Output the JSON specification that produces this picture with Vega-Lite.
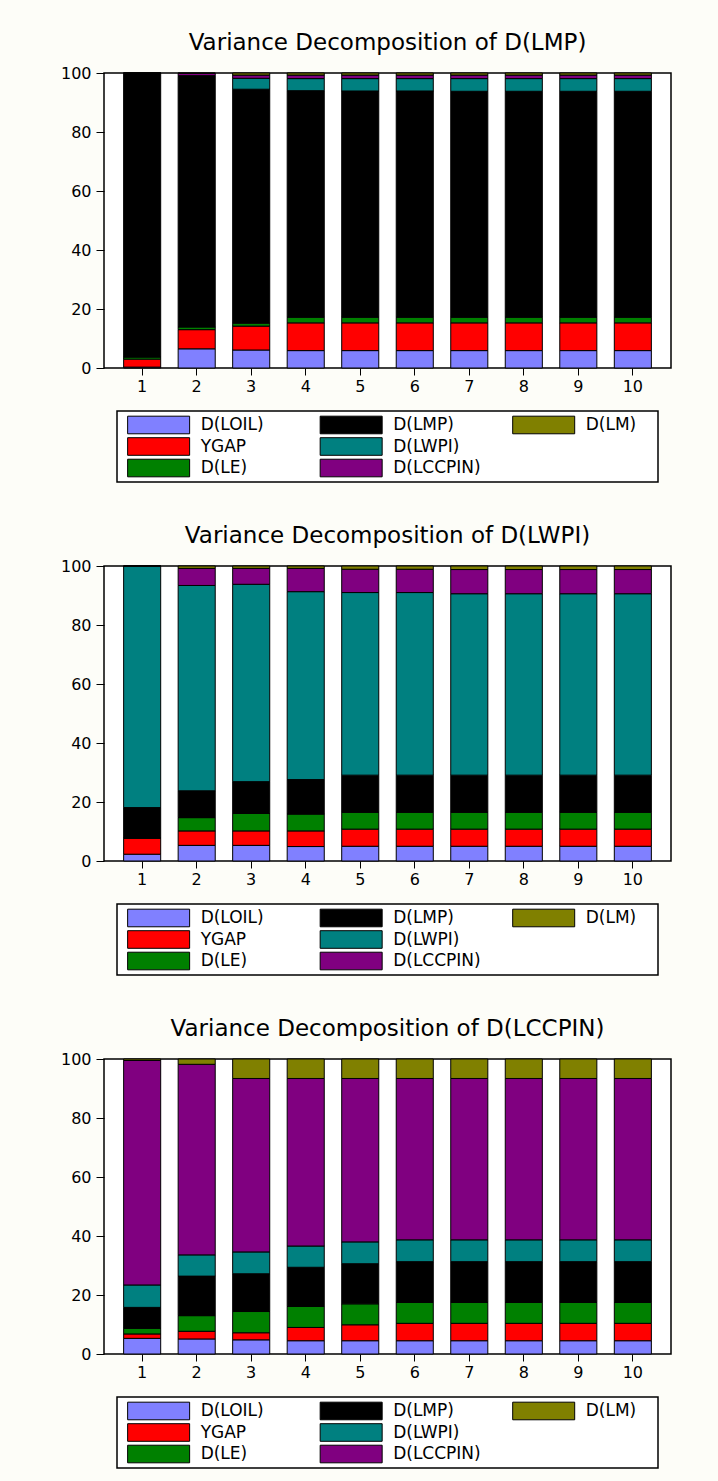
{
  "$schema": "https://vega.github.io/schema/vega-lite/v6.json",
  "background": "#fdfdf8",
  "padding": {"left": 59, "top": 31, "right": 47, "bottom": 13},
  "datasets": {
    "vd": [
      {"panel": "D(LMP)", "h": 1, "loil": 0.3, "ygap": 2.7, "le": 0.7, "lmp": 96.2, "lwpi": 0.05, "lccpin": 0.03, "lm": 0.02},
      {"panel": "D(LMP)", "h": 2, "loil": 6.5, "ygap": 6.5, "le": 0.9, "lmp": 84.9, "lwpi": 0.3, "lccpin": 0.8, "lm": 0.1},
      {"panel": "D(LMP)", "h": 3, "loil": 6.1, "ygap": 8.1, "le": 1.0, "lmp": 79.3, "lwpi": 3.7, "lccpin": 1.1, "lm": 0.7},
      {"panel": "D(LMP)", "h": 4, "loil": 5.9, "ygap": 9.4, "le": 1.9, "lmp": 76.8, "lwpi": 4.1, "lccpin": 1.2, "lm": 0.7},
      {"panel": "D(LMP)", "h": 5, "loil": 5.9, "ygap": 9.4, "le": 1.9, "lmp": 76.7, "lwpi": 4.2, "lccpin": 1.2, "lm": 0.7},
      {"panel": "D(LMP)", "h": 6, "loil": 5.9, "ygap": 9.4, "le": 1.9, "lmp": 76.7, "lwpi": 4.2, "lccpin": 1.2, "lm": 0.7},
      {"panel": "D(LMP)", "h": 7, "loil": 5.9, "ygap": 9.4, "le": 1.9, "lmp": 76.6, "lwpi": 4.3, "lccpin": 1.2, "lm": 0.7},
      {"panel": "D(LMP)", "h": 8, "loil": 5.9, "ygap": 9.4, "le": 1.9, "lmp": 76.6, "lwpi": 4.3, "lccpin": 1.2, "lm": 0.7},
      {"panel": "D(LMP)", "h": 9, "loil": 5.9, "ygap": 9.4, "le": 1.9, "lmp": 76.6, "lwpi": 4.3, "lccpin": 1.2, "lm": 0.7},
      {"panel": "D(LMP)", "h": 10, "loil": 5.9, "ygap": 9.4, "le": 1.9, "lmp": 76.6, "lwpi": 4.3, "lccpin": 1.2, "lm": 0.7},
      {"panel": "D(LWPI)", "h": 1, "loil": 2.3, "ygap": 5.4, "le": 0.1, "lmp": 10.3, "lwpi": 81.9, "lccpin": 0.0, "lm": 0.0},
      {"panel": "D(LWPI)", "h": 2, "loil": 5.3, "ygap": 4.9, "le": 4.5, "lmp": 9.1, "lwpi": 69.6, "lccpin": 5.8, "lm": 0.8},
      {"panel": "D(LWPI)", "h": 3, "loil": 5.3, "ygap": 4.9, "le": 5.9, "lmp": 10.8, "lwpi": 66.9, "lccpin": 5.4, "lm": 0.8},
      {"panel": "D(LWPI)", "h": 4, "loil": 4.9, "ygap": 5.3, "le": 5.7, "lmp": 11.7, "lwpi": 63.7, "lccpin": 7.9, "lm": 0.8},
      {"panel": "D(LWPI)", "h": 5, "loil": 5.0, "ygap": 5.8, "le": 5.7, "lmp": 12.6, "lwpi": 61.9, "lccpin": 7.9, "lm": 1.1},
      {"panel": "D(LWPI)", "h": 6, "loil": 5.0, "ygap": 5.8, "le": 5.7, "lmp": 12.6, "lwpi": 61.9, "lccpin": 7.9, "lm": 1.1},
      {"panel": "D(LWPI)", "h": 7, "loil": 5.0, "ygap": 5.8, "le": 5.7, "lmp": 12.6, "lwpi": 61.5, "lccpin": 8.2, "lm": 1.2},
      {"panel": "D(LWPI)", "h": 8, "loil": 5.0, "ygap": 5.8, "le": 5.7, "lmp": 12.6, "lwpi": 61.5, "lccpin": 8.2, "lm": 1.2},
      {"panel": "D(LWPI)", "h": 9, "loil": 5.0, "ygap": 5.8, "le": 5.7, "lmp": 12.6, "lwpi": 61.5, "lccpin": 8.2, "lm": 1.2},
      {"panel": "D(LWPI)", "h": 10, "loil": 5.0, "ygap": 5.8, "le": 5.7, "lmp": 12.6, "lwpi": 61.5, "lccpin": 8.2, "lm": 1.2},
      {"panel": "D(LCCPIN)", "h": 1, "loil": 5.3, "ygap": 1.5, "le": 1.9, "lmp": 7.1, "lwpi": 7.6, "lccpin": 76.1, "lm": 0.5},
      {"panel": "D(LCCPIN)", "h": 2, "loil": 5.1, "ygap": 2.6, "le": 5.3, "lmp": 13.4, "lwpi": 7.2, "lccpin": 64.6, "lm": 1.8},
      {"panel": "D(LCCPIN)", "h": 3, "loil": 4.8, "ygap": 2.4, "le": 7.2, "lmp": 12.8, "lwpi": 7.4, "lccpin": 58.8, "lm": 6.6},
      {"panel": "D(LCCPIN)", "h": 4, "loil": 4.5, "ygap": 4.5, "le": 7.1, "lmp": 13.3, "lwpi": 7.2, "lccpin": 56.8, "lm": 6.6},
      {"panel": "D(LCCPIN)", "h": 5, "loil": 4.5, "ygap": 5.4, "le": 7.1, "lmp": 13.6, "lwpi": 7.4, "lccpin": 55.4, "lm": 6.6},
      {"panel": "D(LCCPIN)", "h": 6, "loil": 4.5, "ygap": 5.9, "le": 7.1, "lmp": 13.8, "lwpi": 7.4, "lccpin": 54.7, "lm": 6.6},
      {"panel": "D(LCCPIN)", "h": 7, "loil": 4.5, "ygap": 5.9, "le": 7.1, "lmp": 13.8, "lwpi": 7.4, "lccpin": 54.7, "lm": 6.6},
      {"panel": "D(LCCPIN)", "h": 8, "loil": 4.5, "ygap": 5.9, "le": 7.1, "lmp": 13.8, "lwpi": 7.4, "lccpin": 54.7, "lm": 6.6},
      {"panel": "D(LCCPIN)", "h": 9, "loil": 4.5, "ygap": 5.9, "le": 7.1, "lmp": 13.8, "lwpi": 7.4, "lccpin": 54.7, "lm": 6.6},
      {"panel": "D(LCCPIN)", "h": 10, "loil": 4.5, "ygap": 5.9, "le": 7.1, "lmp": 13.8, "lwpi": 7.4, "lccpin": 54.7, "lm": 6.6}
    ],
    "keys": [
      {"k": "loil", "label": "D(LOIL)"},
      {"k": "ygap", "label": "YGAP"},
      {"k": "le", "label": "D(LE)"},
      {"k": "lmp", "label": "D(LMP)"},
      {"k": "lwpi", "label": "D(LWPI)"},
      {"k": "lccpin", "label": "D(LCCPIN)"},
      {"k": "lm", "label": "D(LM)"}
    ]
  },
  "vconcat": [
    {
      "bounds": "flush",
      "center": true,
      "spacing": 43,
      "resolve": {"scale": {"x": "independent", "y": "independent"}},
      "vconcat": [
        {
          "width": 567,
          "height": 295,
          "title": "Variance Decomposition of D(LMP)",
          "data": {"name": "vd"},
          "transform": [
            {"filter": "datum.panel === 'D(LMP)'"},
            {"fold": ["loil", "ygap", "le", "lmp", "lwpi", "lccpin", "lm"], "as": ["k", "v"]},
            {"calculate": "indexof(['loil','ygap','le','lmp','lwpi','lccpin','lm'], datum.k)", "as": "o"}
          ],
          "mark": {"type": "bar", "stroke": "black", "strokeWidth": 1},
          "encoding": {
            "x": {"field": "h", "type": "ordinal", "scale": {"paddingInner": 0.32, "paddingOuter": 0.36}, "axis": {"title": null, "labelAngle": 0, "tickSize": 7, "labelPadding": 3}},
            "y": {"field": "v", "type": "quantitative", "stack": "zero", "scale": {"domain": [0, 100], "nice": false}, "axis": {"title": null, "values": [0, 20, 40, 60, 80, 100], "tickSize": 8, "labelPadding": 5}},
            "color": {"field": "k", "type": "nominal", "scale": {"domain": ["loil", "ygap", "le", "lmp", "lwpi", "lccpin", "lm"], "range": ["#8080ff", "#ff0000", "#008000", "#000000", "#008080", "#800080", "#808000"]}, "legend": null},
            "order": {"field": "o", "type": "quantitative"}
          }
        },
        {
          "width": 541,
          "height": 71,
          "data": {"name": "keys"},
          "transform": [
            {"calculate": "indexof(['loil','ygap','le','lmp','lwpi','lccpin','lm'], datum.k)", "as": "i"},
            {"calculate": "floor(datum.i / 3)", "as": "col"},
            {"calculate": "datum.i % 3", "as": "row"}
          ],
          "encoding": {
            "x": {"field": "col", "type": "ordinal", "scale": {"type": "point", "padding": 0.405, "align": 0.267}, "axis": null},
            "y": {"field": "row", "type": "ordinal", "scale": {"type": "point", "padding": 0.65}, "axis": null}
          },
          "layer": [
            {
              "mark": {"type": "rect", "width": 62, "height": 17.6, "stroke": "black", "strokeWidth": 1},
              "encoding": {"color": {"field": "k", "type": "nominal", "scale": {"domain": ["loil", "ygap", "le", "lmp", "lwpi", "lccpin", "lm"], "range": ["#8080ff", "#ff0000", "#008000", "#000000", "#008080", "#800080", "#808000"]}, "legend": null}}
            },
            {
              "mark": {"type": "text", "align": "left", "baseline": "middle", "dx": 42, "fontSize": 17, "font": "DejaVu Sans", "color": "black"},
              "encoding": {"text": {"field": "label"}}
            }
          ]
        }
      ]
    },
    {
      "bounds": "flush",
      "center": true,
      "spacing": 43,
      "resolve": {"scale": {"x": "independent", "y": "independent"}},
      "vconcat": [
        {
          "width": 567,
          "height": 295,
          "title": "Variance Decomposition of D(LWPI)",
          "data": {"name": "vd"},
          "transform": [
            {"filter": "datum.panel === 'D(LWPI)'"},
            {"fold": ["loil", "ygap", "le", "lmp", "lwpi", "lccpin", "lm"], "as": ["k", "v"]},
            {"calculate": "indexof(['loil','ygap','le','lmp','lwpi','lccpin','lm'], datum.k)", "as": "o"}
          ],
          "mark": {"type": "bar", "stroke": "black", "strokeWidth": 1},
          "encoding": {
            "x": {"field": "h", "type": "ordinal", "scale": {"paddingInner": 0.32, "paddingOuter": 0.36}, "axis": {"title": null, "labelAngle": 0, "tickSize": 7, "labelPadding": 3}},
            "y": {"field": "v", "type": "quantitative", "stack": "zero", "scale": {"domain": [0, 100], "nice": false}, "axis": {"title": null, "values": [0, 20, 40, 60, 80, 100], "tickSize": 8, "labelPadding": 5}},
            "color": {"field": "k", "type": "nominal", "scale": {"domain": ["loil", "ygap", "le", "lmp", "lwpi", "lccpin", "lm"], "range": ["#8080ff", "#ff0000", "#008000", "#000000", "#008080", "#800080", "#808000"]}, "legend": null},
            "order": {"field": "o", "type": "quantitative"}
          }
        },
        {
          "width": 541,
          "height": 71,
          "data": {"name": "keys"},
          "transform": [
            {"calculate": "indexof(['loil','ygap','le','lmp','lwpi','lccpin','lm'], datum.k)", "as": "i"},
            {"calculate": "floor(datum.i / 3)", "as": "col"},
            {"calculate": "datum.i % 3", "as": "row"}
          ],
          "encoding": {
            "x": {"field": "col", "type": "ordinal", "scale": {"type": "point", "padding": 0.405, "align": 0.267}, "axis": null},
            "y": {"field": "row", "type": "ordinal", "scale": {"type": "point", "padding": 0.65}, "axis": null}
          },
          "layer": [
            {
              "mark": {"type": "rect", "width": 62, "height": 17.6, "stroke": "black", "strokeWidth": 1},
              "encoding": {"color": {"field": "k", "type": "nominal", "scale": {"domain": ["loil", "ygap", "le", "lmp", "lwpi", "lccpin", "lm"], "range": ["#8080ff", "#ff0000", "#008000", "#000000", "#008080", "#800080", "#808000"]}, "legend": null}}
            },
            {
              "mark": {"type": "text", "align": "left", "baseline": "middle", "dx": 42, "fontSize": 17, "font": "DejaVu Sans", "color": "black"},
              "encoding": {"text": {"field": "label"}}
            }
          ]
        }
      ]
    },
    {
      "bounds": "flush",
      "center": true,
      "spacing": 43,
      "resolve": {"scale": {"x": "independent", "y": "independent"}},
      "vconcat": [
        {
          "width": 567,
          "height": 295,
          "title": "Variance Decomposition of D(LCCPIN)",
          "data": {"name": "vd"},
          "transform": [
            {"filter": "datum.panel === 'D(LCCPIN)'"},
            {"fold": ["loil", "ygap", "le", "lmp", "lwpi", "lccpin", "lm"], "as": ["k", "v"]},
            {"calculate": "indexof(['loil','ygap','le','lmp','lwpi','lccpin','lm'], datum.k)", "as": "o"}
          ],
          "mark": {"type": "bar", "stroke": "black", "strokeWidth": 1},
          "encoding": {
            "x": {"field": "h", "type": "ordinal", "scale": {"paddingInner": 0.32, "paddingOuter": 0.36}, "axis": {"title": null, "labelAngle": 0, "tickSize": 7, "labelPadding": 3}},
            "y": {"field": "v", "type": "quantitative", "stack": "zero", "scale": {"domain": [0, 100], "nice": false}, "axis": {"title": null, "values": [0, 20, 40, 60, 80, 100], "tickSize": 8, "labelPadding": 5}},
            "color": {"field": "k", "type": "nominal", "scale": {"domain": ["loil", "ygap", "le", "lmp", "lwpi", "lccpin", "lm"], "range": ["#8080ff", "#ff0000", "#008000", "#000000", "#008080", "#800080", "#808000"]}, "legend": null},
            "order": {"field": "o", "type": "quantitative"}
          }
        },
        {
          "width": 541,
          "height": 71,
          "data": {"name": "keys"},
          "transform": [
            {"calculate": "indexof(['loil','ygap','le','lmp','lwpi','lccpin','lm'], datum.k)", "as": "i"},
            {"calculate": "floor(datum.i / 3)", "as": "col"},
            {"calculate": "datum.i % 3", "as": "row"}
          ],
          "encoding": {
            "x": {"field": "col", "type": "ordinal", "scale": {"type": "point", "padding": 0.405, "align": 0.267}, "axis": null},
            "y": {"field": "row", "type": "ordinal", "scale": {"type": "point", "padding": 0.65}, "axis": null}
          },
          "layer": [
            {
              "mark": {"type": "rect", "width": 62, "height": 17.6, "stroke": "black", "strokeWidth": 1},
              "encoding": {"color": {"field": "k", "type": "nominal", "scale": {"domain": ["loil", "ygap", "le", "lmp", "lwpi", "lccpin", "lm"], "range": ["#8080ff", "#ff0000", "#008000", "#000000", "#008080", "#800080", "#808000"]}, "legend": null}}
            },
            {
              "mark": {"type": "text", "align": "left", "baseline": "middle", "dx": 42, "fontSize": 17, "font": "DejaVu Sans", "color": "black"},
              "encoding": {"text": {"field": "label"}}
            }
          ]
        }
      ]
    }
  ],
  "spacing": 41,
  "resolve": {"scale": {"x": "independent", "y": "independent"}},
  "config": {
    "font": "DejaVu Sans",
    "view": {"stroke": "black", "strokeWidth": 1.5, "fill": "white"},
    "axis": {"domain": false, "grid": false, "tickColor": "black", "tickWidth": 1, "labelColor": "black", "labelFont": "DejaVu Sans", "labelFontSize": 16},
    "title": {"font": "DejaVu Sans", "fontSize": 23, "fontWeight": "normal", "color": "black", "anchor": "middle", "frame": "group", "baseline": "alphabetic", "offset": 10}
  }
}
